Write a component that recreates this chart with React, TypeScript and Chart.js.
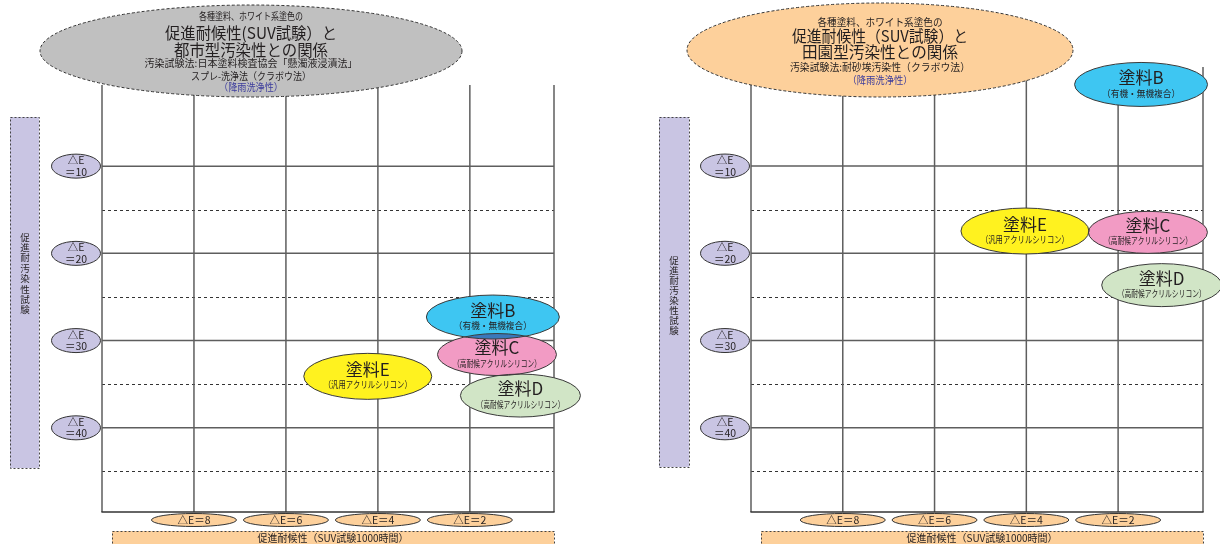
import React, { useEffect, useRef } from 'react';
import { Chart, registerables } from 'chart.js';

Chart.register(...registerables);

const FONT = '"Noto Sans CJK JP", "Noto Sans", sans-serif';

// ---- data ----
const xGridValues = [10, 8, 6, 4, 2];
const xTickValues = [8, 6, 4, 2];
const xTickLabels = ['△E＝8', '△E＝6', '△E＝4', '△E＝2'];
const yMajorValues = [10, 20, 30, 40];
const yMinorValues = [15, 25, 35, 45];
const yTickLabels = ['＝10', '＝20', '＝30', '＝40'];
const paintNames = ['塗料B', '塗料C', '塗料D', '塗料E'];
const paintKinds = ['（有機・無機複合）', '（高耐候アクリルシリコン）', '（高耐候アクリルシリコン）', '（汎用アクリルシリコン）'];
const urbanWeatherDE = [1.5, 1.41, 0.9, 4.22];
const urbanStainDE = [27.3, 31.6, 36.3, 34.1];
const ruralWeatherDE = [1.5, 1.35, 1.05, 4.03];
const ruralStainDE = [0.65, 17.6, 23.65, 17.45];
const urbanTitle = [
  '各種塗料、ホワイト系塗色の',
  '促進耐候性(SUV試験）と',
  '都市型汚染性との関係',
  '汚染試験法:日本塗料検査協会「懸濁液浸漬法」',
  'スプレ-洗浄法（クラボウ法）',
  '（降雨洗浄性）',
];
const ruralTitle = [
  '各種塗料、ホワイト系塗色の',
  '促進耐候性（SUV試験）と',
  '田園型汚染性との関係',
  '汚染試験法:耐砂埃汚染性（クラボウ法）',
  '（降雨洗浄性）',
];
const xAxisTitle = '促進耐候性（SUV試験1000時間）';
const yAxisTitle = '促進耐汚染性試験';

// ---- styles ----
const paintFill = ['#3ec6f2', '#f29bc4', '#d1e5c6', '#fff21f'];
const paintW = [133, 119, 120, 128];
const paintH = [44, 42, 43, 46];
const paintKindW = [78, 88, 88, 88];
const LAVENDER = '#c9c5e3';
const PEACH = '#fdd09b';
const TEXT = '#231f20';
const BLUE = '#3b3b9c';

type TitleLine = { text: string; y: number; size: number; w: number; color?: string };

type PanelCfg = {
  left: number;
  padding: { left: number; right: number; top: number; bottom: number };
  xMin: number;
  xMax: number;
  yMin: number;
  yMax: number;
  weather: number[];
  stain: number[];
  title: { cx: number; cy: number; rx: number; ry: number; fill: string; textX: number; lines: TitleLine[] };
  side: { x: number; y: number; w: number; h: number; textX: number; firstY: number; step: number };
  yLabelX: number;
  bottom: { x1: number; x2: number; y1: number; textY: number };
};

const panels: PanelCfg[] = [
  {
    left: 0,
    padding: { left: 102, right: 56, top: 85, bottom: 32 },
    xMin: 0.17,
    xMax: 10,
    yMin: 0.7,
    yMax: 49.65,
    weather: urbanWeatherDE,
    stain: urbanStainDE,
    title: {
      cx: 251, cy: 51, rx: 211, ry: 46, fill: '#c0c0c0', textX: 251,
      lines: [
        { text: urbanTitle[0], y: 16, size: 10, w: 104 },
        { text: urbanTitle[1], y: 33, size: 16, w: 172 },
        { text: urbanTitle[2], y: 49.5, size: 16, w: 154 },
        { text: urbanTitle[3], y: 63.5, size: 10, w: 218 },
        { text: urbanTitle[4], y: 76.5, size: 10, w: 120 },
        { text: urbanTitle[5], y: 87.5, size: 10, w: 64, color: BLUE },
      ],
    },
    side: { x: 10, y: 117, w: 29, h: 351, textX: 25, firstY: 237, step: 10.4 },
    yLabelX: 76,
    bottom: { x1: 112, x2: 554, y1: 531, textY: 538 },
  },
  {
    left: 610,
    padding: { left: 141, right: 17, top: 67, bottom: 32 },
    xMin: 0.15,
    xMax: 10,
    yMin: -1.35,
    yMax: 49.65,
    weather: ruralWeatherDE,
    stain: ruralStainDE,
    title: {
      cx: 270, cy: 50, rx: 193, ry: 47, fill: PEACH, textX: 270,
      lines: [
        { text: ruralTitle[0], y: 22, size: 10.5, w: 125 },
        { text: ruralTitle[1], y: 36, size: 16, w: 176 },
        { text: ruralTitle[2], y: 51.5, size: 16, w: 156 },
        { text: ruralTitle[3], y: 67, size: 10.5, w: 180 },
        { text: ruralTitle[4], y: 80, size: 10, w: 65, color: BLUE },
      ],
    },
    side: { x: 49, y: 117, w: 30, h: 350, textX: 64, firstY: 260, step: 10 },
    yLabelX: 115,
    bottom: { x1: 151, x2: 593, y1: 531, textY: 538 },
  },
];

function ellipsePath(ctx: CanvasRenderingContext2D, cx: number, cy: number, rx: number, ry: number) {
  ctx.beginPath();
  ctx.ellipse(cx, cy, rx, ry, 0, 0, Math.PI * 2);
}

function line(ctx: CanvasRenderingContext2D, x1: number, y1: number, x2: number, y2: number) {
  ctx.beginPath();
  ctx.moveTo(x1, y1);
  ctx.lineTo(x2, y2);
  ctx.stroke();
}

function makePlugin(cfg: PanelCfg) {
  return {
    id: 'paintChartDecor',
    beforeDatasetsDraw(chart: any) {
      const ctx: CanvasRenderingContext2D = chart.ctx;
      const xs = chart.scales.x;
      const ys = chart.scales.y;
      const { left, right, top, bottom } = chart.chartArea;
      ctx.save();
      ctx.strokeStyle = '#333';
      ctx.lineWidth = 1;
      ctx.setLineDash([3, 3]);
      yMinorValues.forEach((v) => {
        const py = Math.round(ys.getPixelForValue(v)) + 0.5;
        line(ctx, left, py, right, py);
      });
      ctx.setLineDash([]);
      ctx.strokeStyle = '#5e5e5e';
      ctx.lineWidth = 1.5;
      yMajorValues.forEach((v) => {
        const py = ys.getPixelForValue(v);
        line(ctx, left, py, right, py);
      });
      xGridValues.forEach((v) => {
        const px = xs.getPixelForValue(v);
        line(ctx, px, top, px, bottom);
      });
      line(ctx, right, top, right, bottom);
      ctx.strokeStyle = '#333';
      ctx.lineWidth = 1.3;
      line(ctx, left - 0.6, bottom, right + 0.6, bottom);
      ctx.restore();
    },
    afterDatasetsDraw(chart: any) {
      const ctx: CanvasRenderingContext2D = chart.ctx;
      const meta = chart.getDatasetMeta(0);
      const pts = meta.data.map((el: any) => ({ x: el.x, y: el.y }));
      ctx.save();
      pts.forEach((p: any, i: number) => {
        ellipsePath(ctx, p.x, p.y, paintW[i] / 2, paintH[i] / 2);
        ctx.fillStyle = '#ffffff';
        ctx.fill();
      });
      ctx.globalCompositeOperation = 'multiply';
      pts.forEach((p: any, i: number) => {
        ellipsePath(ctx, p.x, p.y, paintW[i] / 2, paintH[i] / 2);
        ctx.fillStyle = paintFill[i];
        ctx.fill();
      });
      ctx.globalCompositeOperation = 'source-over';
      ctx.strokeStyle = '#3a3a3a';
      ctx.lineWidth = 1;
      pts.forEach((p: any, i: number) => {
        ellipsePath(ctx, p.x, p.y, paintW[i] / 2, paintH[i] / 2);
        ctx.stroke();
      });
      ctx.fillStyle = TEXT;
      ctx.textAlign = 'center';
      ctx.textBaseline = 'middle';
      pts.forEach((p: any, i: number) => {
        ctx.font = `17px ${FONT}`;
        ctx.fillText(paintNames[i], p.x, p.y - 6.5);
        ctx.font = `9.5px ${FONT}`;
        ctx.fillText(paintKinds[i], p.x, p.y + 8.5, paintKindW[i]);
      });
      ctx.restore();
    },
    afterDraw(chart: any) {
      const ctx: CanvasRenderingContext2D = chart.ctx;
      const xs = chart.scales.x;
      const ys = chart.scales.y;
      ctx.save();
      ctx.textAlign = 'center';
      ctx.textBaseline = 'middle';

      const t = cfg.title;
      ellipsePath(ctx, t.cx, t.cy, t.rx, t.ry);
      ctx.fillStyle = t.fill;
      ctx.fill();
      ctx.setLineDash([3, 2]);
      ctx.strokeStyle = '#333';
      ctx.lineWidth = 1;
      ctx.stroke();
      ctx.setLineDash([]);
      t.lines.forEach((l) => {
        ctx.font = `${l.size}px ${FONT}`;
        ctx.fillStyle = l.color || TEXT;
        ctx.fillText(l.text, t.textX, l.y, l.w);
      });

      const s = cfg.side;
      ctx.fillStyle = LAVENDER;
      ctx.fillRect(s.x, s.y, s.w, s.h);
      ctx.setLineDash([2, 2]);
      ctx.strokeStyle = '#444';
      ctx.lineWidth = 1;
      ctx.strokeRect(s.x + 0.5, s.y + 0.5, s.w, s.h);
      ctx.setLineDash([]);
      ctx.fillStyle = TEXT;
      ctx.font = `9.5px ${FONT}`;
      Array.from(yAxisTitle).forEach((ch, i) => {
        ctx.fillText(ch, s.textX, s.firstY + i * s.step);
      });

      yMajorValues.forEach((v, i) => {
        const cy = ys.getPixelForValue(v);
        ellipsePath(ctx, cfg.yLabelX, cy, 24.5, 12);
        ctx.fillStyle = LAVENDER;
        ctx.fill();
        ctx.strokeStyle = '#333';
        ctx.lineWidth = 1;
        ctx.stroke();
        ctx.fillStyle = TEXT;
        ctx.font = `10.5px ${FONT}`;
        ctx.fillText('△E', cfg.yLabelX, cy - 6);
        ctx.fillText(yTickLabels[i], cfg.yLabelX, cy + 5.5);
      });

      xTickValues.forEach((v, i) => {
        const cx = xs.getPixelForValue(v);
        ellipsePath(ctx, cx, 520, 42.5, 6.5);
        ctx.fillStyle = PEACH;
        ctx.fill();
        ctx.strokeStyle = '#333';
        ctx.lineWidth = 1;
        ctx.stroke();
        ctx.fillStyle = TEXT;
        ctx.font = `10.5px ${FONT}`;
        ctx.fillText(xTickLabels[i], cx, 520);
      });

      const b = cfg.bottom;
      ctx.fillStyle = PEACH;
      ctx.fillRect(b.x1, b.y1, b.x2 - b.x1, 20);
      ctx.setLineDash([2, 2]);
      ctx.strokeStyle = '#444';
      ctx.strokeRect(b.x1 + 0.5, b.y1 + 0.5, b.x2 - b.x1, 20);
      ctx.setLineDash([]);
      ctx.fillStyle = TEXT;
      ctx.font = `10px ${FONT}`;
      ctx.fillText(xAxisTitle, (b.x1 + b.x2) / 2, b.textY);

      ctx.restore();
    },
  };
}

function Panel({ cfg }: { cfg: PanelCfg }) {
  const ref = useRef<HTMLCanvasElement>(null);
  useEffect(() => {
    if (!ref.current) return;
    const chart = new Chart(ref.current, {
      type: 'scatter',
      data: {
        datasets: [
          {
            label: '塗料',
            data: cfg.weather.map((x, i) => ({ x, y: cfg.stain[i] })),
            pointRadius: 0,
            pointHoverRadius: 0,
            showLine: false,
            clip: false as any,
          },
        ],
      },
      options: {
        responsive: false,
        maintainAspectRatio: false,
        animation: false,
        events: [],
        layout: { padding: cfg.padding },
        scales: {
          x: { type: 'linear', min: cfg.xMin, max: cfg.xMax, reverse: true, display: false },
          y: { type: 'linear', min: cfg.yMin, max: cfg.yMax, reverse: true, display: false },
        },
        plugins: {
          legend: { display: false },
          tooltip: { enabled: false },
        },
      },
      plugins: [makePlugin(cfg)],
    });
    return () => chart.destroy();
  }, [cfg]);
  return (
    <canvas
      ref={ref}
      width={610}
      height={544}
      style={{ position: 'absolute', left: cfg.left, top: 0, width: 610, height: 544, display: 'block' }}
    />
  );
}

export default function App() {
  return (
    <div
      style={{
        position: 'fixed',
        left: 0,
        top: 0,
        width: 1220,
        height: 544,
        background: '#ffffff',
        overflow: 'hidden',
      }}
    >
      {panels.map((p, i) => (
        <Panel key={i} cfg={p} />
      ))}
    </div>
  );
}
